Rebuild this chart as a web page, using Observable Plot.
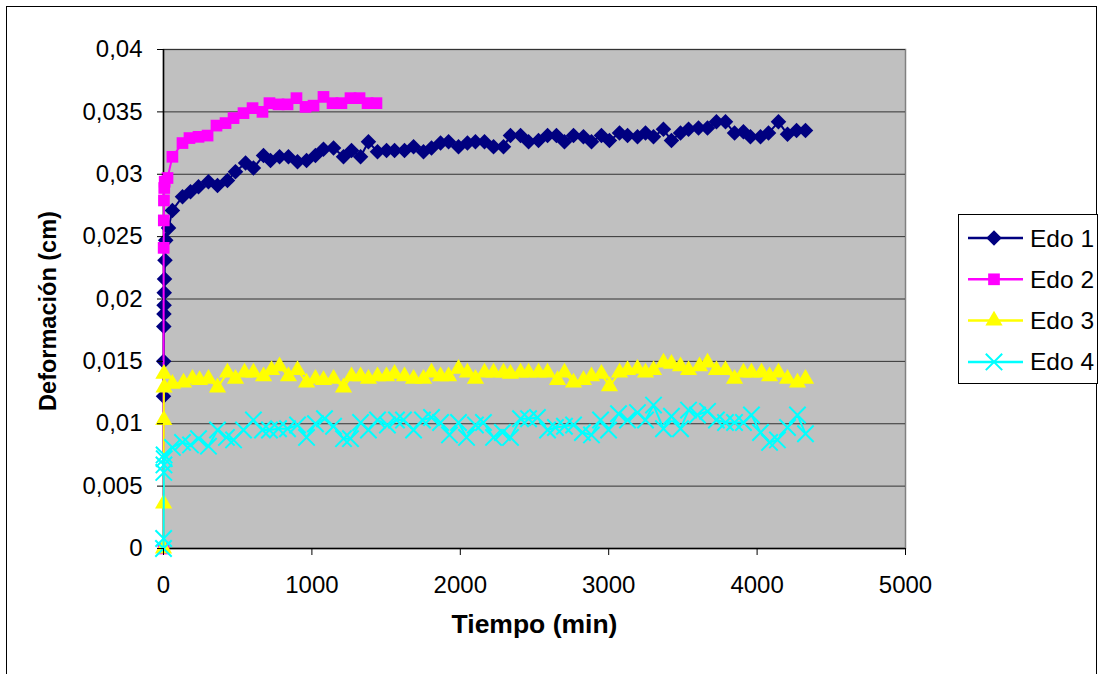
<!DOCTYPE html>
<html><head><meta charset="utf-8">
<script src="https://cdn.jsdelivr.net/npm/d3@7"></script>
<script src="https://cdn.jsdelivr.net/npm/@observablehq/plot@0.6"></script>
<style>
html,body{margin:0;padding:0;background:#fff;overflow:hidden;}
#wrap{position:relative;width:1103px;height:674px;font-family:'Liberation Sans',Arial,sans-serif;}
#wrap > svg.chart{position:absolute;left:0;top:0;}
#border{position:absolute;left:6px;top:6px;width:1091px;height:700px;border:1px solid #000;box-sizing:border-box;pointer-events:none;}
#wrap > svg#legend{position:absolute;left:958px;top:214px;}
</style></head>
<body>
<div id="wrap"><div id="border"></div></div>
<script>
// ---- data ----
const xTicks = [0, 1000, 2000, 3000, 4000, 5000];
const yTicks = [0, 0.005, 0.01, 0.015, 0.02, 0.025, 0.03, 0.035, 0.04];
const seriesNames = ["Edo 1", "Edo 2", "Edo 3", "Edo 4"];

const tiempo1 = [0,1,2,3,4,5,7,10,15,34,60,128,182,236,303,364,431,485,553,606,674,721,782,842,903,964,1024,1078,1146,1213,1267,1328,1381,1442,1503,1557,1624,1685,1752,1806,1867,1921,1988,2048,2102,2163,2224,2291,2338,2406,2460,2527,2588,2648,2702,2763,2830,2884,2951,3005,3073,3127,3194,3248,3302,3369,3423,3484,3538,3605,3666,3726,3787,3848,3908,3955,4023,4077,4144,4205,4266,4326];
const deform1 = [0.0122,0.0150,0.0178,0.0188,0.0195,0.0205,0.0216,0.0231,0.0247,0.0257,0.0271,0.0282,0.0286,0.0290,0.0294,0.0291,0.0295,0.0302,0.0309,0.0305,0.0315,0.0311,0.0314,0.0314,0.0310,0.0311,0.0315,0.0320,0.0321,0.0314,0.0319,0.0314,0.0326,0.0318,0.0319,0.0319,0.0319,0.0322,0.0318,0.0321,0.0325,0.0326,0.0322,0.0325,0.0326,0.0326,0.0322,0.0322,0.0331,0.0331,0.0326,0.0327,0.0331,0.0331,0.0326,0.0331,0.0330,0.0326,0.0331,0.0327,0.0333,0.0331,0.0330,0.0333,0.0330,0.0336,0.0327,0.0333,0.0336,0.0337,0.0337,0.0342,0.0342,0.0333,0.0334,0.0330,0.0330,0.0333,0.0342,0.0332,0.0335,0.0335];

const tiempo2 = [0,1,2,3,5,8,27,60,128,175,236,297,357,418,472,539,600,667,714,775,836,896,957,1011,1078,1139,1199,1260,1321,1375,1435];
const deform2 = [0,0.0241,0.0263,0.0279,0.0289,0.0294,0.0297,0.0314,0.0325,0.0329,0.0330,0.0331,0.0339,0.0341,0.0345,0.0349,0.0353,0.0350,0.0357,0.0356,0.0356,0.0361,0.0354,0.0355,0.0362,0.0357,0.0357,0.0361,0.0361,0.0357,0.0357];

const tiempo3 = [0,1,2,3,4,60,135,195,243,303,364,431,485,546,606,674,728,782,842,903,964,1024,1078,1146,1213,1267,1328,1381,1442,1503,1557,1624,1685,1752,1806,1867,1921,1988,2048,2102,2163,2224,2291,2338,2406,2460,2527,2588,2655,2702,2763,2830,2884,2951,3005,3073,3127,3194,3248,3302,3369,3423,3484,3538,3612,3666,3726,3787,3848,3908,3962,4030,4084,4144,4205,4272,4326];
const deform3 = [0,0.0036,0.0103,0.0140,0.0129,0.0132,0.0133,0.0136,0.0135,0.0136,0.0129,0.0141,0.0136,0.0141,0.0141,0.0138,0.0143,0.0146,0.0138,0.0143,0.0133,0.0136,0.0135,0.0136,0.0129,0.0138,0.0138,0.0136,0.0138,0.0138,0.0140,0.0138,0.0136,0.0136,0.0141,0.0138,0.0138,0.0144,0.0141,0.0136,0.0141,0.0141,0.0141,0.0140,0.0141,0.0141,0.0141,0.0141,0.0135,0.0141,0.0133,0.0135,0.0138,0.0140,0.0130,0.0141,0.0143,0.0144,0.0141,0.0143,0.0149,0.0148,0.0146,0.0143,0.0146,0.0149,0.0143,0.0143,0.0136,0.0141,0.0141,0.0141,0.0138,0.0141,0.0136,0.0133,0.0136];

const tiempo4 = [0,1,2,3,4,5,60,128,182,236,303,364,424,472,539,606,667,714,775,836,903,964,1024,1085,1146,1213,1260,1328,1381,1442,1509,1570,1617,1685,1745,1806,1867,1927,1988,2042,2102,2156,2224,2284,2338,2406,2460,2520,2588,2641,2702,2763,2823,2884,2945,2999,3066,3127,3194,3248,3302,3369,3423,3484,3538,3598,3666,3726,3787,3848,3908,3962,4023,4084,4137,4205,4272,4326];
const deform4 = [0,0.0008,0.0061,0.0067,0.0075,0.0072,0.0081,0.0085,0.0083,0.0088,0.0082,0.0095,0.0089,0.0087,0.0095,0.0103,0.0095,0.0095,0.0096,0.0096,0.0099,0.0089,0.0100,0.0104,0.0098,0.0088,0.0088,0.0101,0.0095,0.0103,0.0099,0.0103,0.0103,0.0095,0.0103,0.0105,0.0101,0.0091,0.0101,0.0089,0.0099,0.0101,0.0089,0.0093,0.0089,0.0104,0.0104,0.0105,0.0095,0.0097,0.0098,0.0099,0.0093,0.0091,0.0103,0.0095,0.0108,0.0103,0.0109,0.0103,0.0115,0.0096,0.0106,0.0096,0.0111,0.0107,0.0110,0.0103,0.0101,0.0101,0.0101,0.0107,0.0093,0.0085,0.0087,0.0097,0.0107,0.0092];

// ---- styles per series ----
const seriesStyle = [
  {color: "#000080", symbol: "square", rotate: 45, r: 6.2, stroked: false},
  {color: "#FF00FF", symbol: "square", rotate: 0, r: 6.6, stroked: false},
  {color: "#FFFF00", symbol: "triangle", rotate: 0, r: 6.4, stroked: false},
  {color: "#00FFFF", symbol: "times", rotate: 0, r: 7.5, stroked: true}
];
const tiempos = [tiempo1, tiempo2, tiempo3, tiempo4];
const deforms = [deform1, deform2, deform3, deform4];

const fmtY = d => String(d).replace(".", ",");

const marks = [
  Plot.frame({fill: "#C0C0C0", stroke: "#808080", strokeWidth: 1.5}),
  Plot.gridY(yTicks, {stroke: "#333", strokeOpacity: 1, strokeWidth: 1}),
  Plot.ruleX([0], {stroke: "#000", strokeWidth: 1.5}),
  Plot.ruleY([0], {stroke: "#000", strokeWidth: 1.5})
];
seriesNames.forEach((name, i) => {
  const data = d3.zip(tiempos[i], deforms[i]).map(([t, d]) => ({serie: name, t, d}));
  const s = seriesStyle[i];
  marks.push(Plot.line(data, {x: "t", y: "d", stroke: s.color, strokeWidth: 2}));
  marks.push(Plot.dot(data, {
    x: "t", y: "d", symbol: s.symbol, r: s.r, rotate: s.rotate,
    fill: s.stroked ? "none" : s.color,
    stroke: s.stroked ? s.color : "none",
    strokeWidth: 2
  }));
});
marks.push(
  Plot.axisX({ticks: xTicks, tickFormat: d => String(d), tickSize: 7, tickPadding: 20, label: null}),
  Plot.axisY({ticks: yTicks, tickFormat: fmtY, tickSize: 6, tickPadding: 15, label: null}),
  Plot.text(["Tiempo (min)"], {frameAnchor: "bottom", textAnchor: "middle", dy: 84, fontWeight: "bold", fontSize: 26.5}),
  Plot.text(["Deformación (cm)"], {frameAnchor: "left", textAnchor: "middle", dx: -115, dy: 12, rotate: -90, fontWeight: "bold", fontSize: 23.5})
);

const chart = Plot.plot({
  width: 1103, height: 674,
  marginLeft: 163, marginRight: 198, marginTop: 49, marginBottom: 126,
  style: {fontFamily: "'Liberation Sans', Arial, sans-serif", fontSize: "24px", color: "#000", background: "transparent", overflow: "visible"},
  x: {domain: [0, 5000]},
  y: {domain: [0, 0.04]},
  marks
});
chart.classList.add("chart");
const wrap = document.getElementById("wrap");
wrap.insertBefore(chart, wrap.firstChild);

// ---- legend (SVG overlay on the right) ----
const lw = 139, lh = 169;
const leg = d3.select(wrap).append("svg").attr("id", "legend")
  .attr("width", lw + 1).attr("height", lh + 1);
leg.append("rect").attr("x", 0.5).attr("y", 0.5).attr("width", lw).attr("height", lh)
  .attr("fill", "#fff").attr("stroke", "#000");
const symMap = {square: d3.symbolSquare, triangle: d3.symbolTriangle, times: d3.symbolTimes};
seriesNames.forEach((name, i) => {
  const s = seriesStyle[i];
  const cy = 24 + i * 41.3;
  const g = leg.append("g").attr("transform", `translate(0,${cy})`);
  g.append("line").attr("x1", 10).attr("x2", 65).attr("y1", 0).attr("y2", 0)
    .attr("stroke", s.color).attr("stroke-width", 2.5);
  g.append("path")
    .attr("d", d3.symbol(symMap[s.symbol], Math.PI * s.r * s.r)())
    .attr("transform", `translate(36,0) rotate(${s.rotate})`)
    .attr("fill", s.stroked ? "none" : s.color)
    .attr("stroke", s.stroked ? s.color : "none").attr("stroke-width", 2);
  g.append("text").attr("x", 72).attr("y", 0).attr("dy", "0.35em")
    .attr("font-family", "'Liberation Sans', Arial, sans-serif").attr("font-size", 24.5)
    .text(name);
});
</script>
</body></html>
